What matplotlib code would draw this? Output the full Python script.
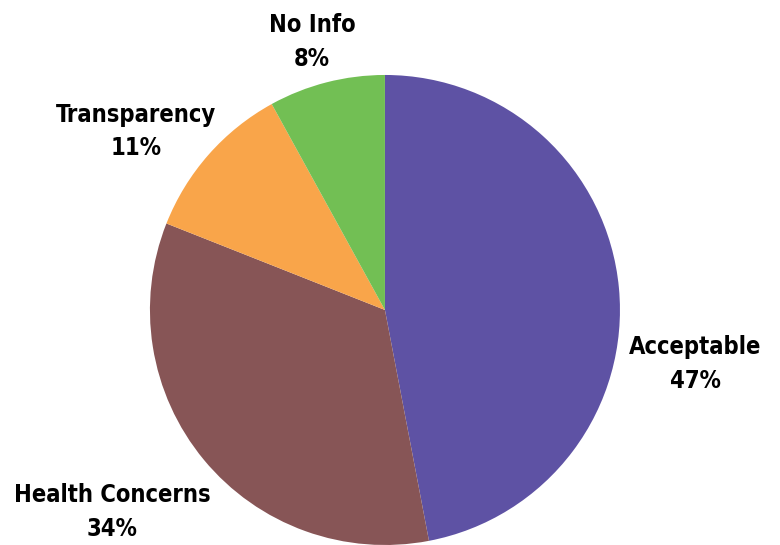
import matplotlib.pyplot as plt
import numpy as np

# data
labels = ['Acceptable', 'Health Concerns', 'Transparency', 'No Info']
shares = [47, 34, 11, 8]
colors = ['#5E52A4', '#875556', '#F9A54A', '#72BF54']

# label positions in units of the pie radius
label_xy = [(1.32, -0.23), (-1.16, -0.86), (-1.06, 0.76), (-0.31, 1.14)]

fig = plt.figure(figsize=(7.8, 5.45), dpi=100)
ax = fig.add_axes([0, 0, 1, 1])

ax.pie(shares, colors=colors, startangle=90, counterclock=False,
       radius=1.0, center=(0, 0), frame=True)

for name, val, (x, y) in zip(labels, shares, label_xy):
    ax.text(x, y, f'{name}\n{val}%', ha='center', va='center',
            fontsize=17, fontweight='bold', family='DejaVu Sans',
            fontstretch='condensed', linespacing=1.5)

ax.set_xlim(-1.638, 1.681)
ax.set_ylim(-1.0, 1.319)
ax.set_aspect('equal')
ax.axis('off')

fig.savefig('out.png', dpi=100)
